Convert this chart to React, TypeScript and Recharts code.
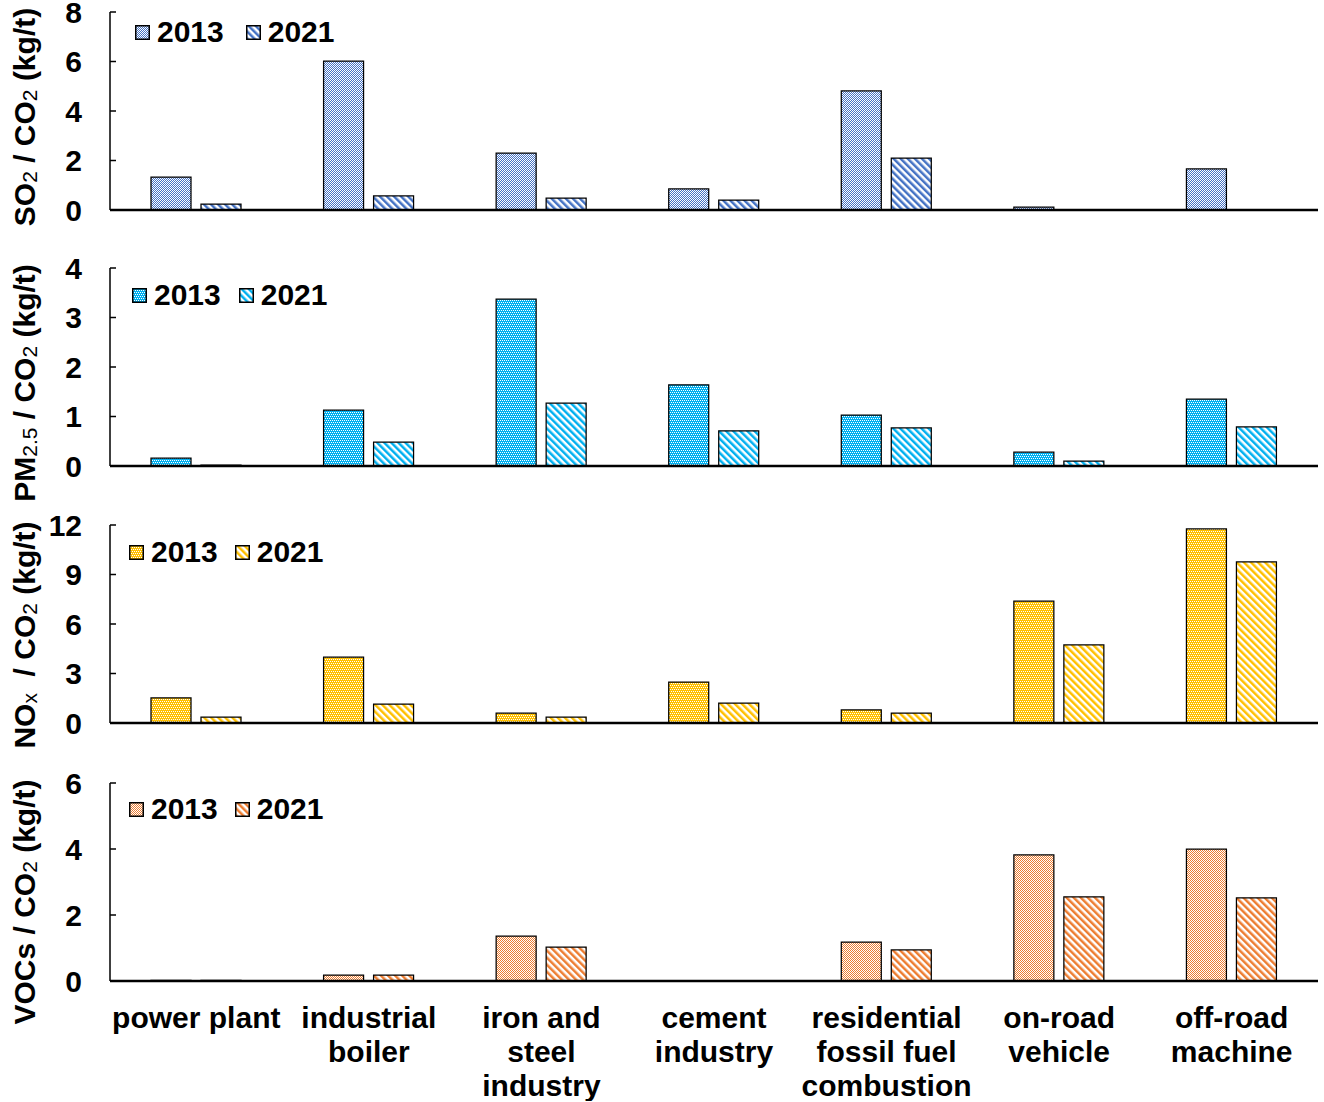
import React from 'react';
import { BarChart, Bar, XAxis, YAxis, Legend } from 'recharts';

const categories = [
  'power plant',
  'industrial\nboiler',
  'iron and\nsteel\nindustry',
  'cement\nindustry',
  'residential\nfossil fuel\ncombustion',
  'on-road\nvehicle',
  'off-road\nmachine',
];

const years = ['2013', '2021'];

const so2_2013 = [1.33, 6.02, 2.3, 0.85, 4.81, 0.12, 1.66];
const so2_2021 = [0.24, 0.57, 0.48, 0.4, 2.1, 0.02, 0.02];
const pm_2013 = [0.16, 1.13, 3.37, 1.64, 1.03, 0.28, 1.35];
const pm_2021 = [0.02, 0.48, 1.27, 0.71, 0.77, 0.1, 0.79];
const nox_2013 = [1.52, 4.0, 0.6, 2.48, 0.79, 7.39, 11.76];
const nox_2021 = [0.36, 1.15, 0.36, 1.21, 0.6, 4.73, 9.76];
const voc_2013 = [0.02, 0.18, 1.36, 0.01, 1.18, 3.82, 4.0];
const voc_2021 = [0.02, 0.18, 1.03, 0.0, 0.94, 2.55, 2.52];

const so2Ticks = [0, 2, 4, 6, 8];
const pmTicks = [0, 1, 2, 3, 4];
const noxTicks = [0, 3, 6, 9, 12];
const vocTicks = [0, 2, 4, 6];

const FONT = 'Arial, "Liberation Sans", sans-serif';
const FS = 30;
const MT = 24;

type Part = [string, boolean];

// white pixels inside a 4x4 tile for the dotted 2013 fill
const DOTS_50 = [[0, 0], [1, 1], [2, 0], [3, 1], [0, 2], [1, 3], [2, 2], [3, 3]];
const DOTS_25 = [[0, 0], [2, 0], [1, 2], [3, 2]];

const panels = [
  {
    key: 'so2', a: so2_2013, b: so2_2021, ticks: so2Ticks, color: '#4472c4', dots: DOTS_50,
    label: [['SO', false], ['2', true], [' / CO', false], ['2', true], [' (kg/t)', false]] as Part[],
    plotTop: 12, labelCenter: 117, legendCenter: 32, legendLeft: 135, legendGap: 22,
  },
  {
    key: 'pm', a: pm_2013, b: pm_2021, ticks: pmTicks, color: '#00b0f0', dots: DOTS_25,
    label: [['PM', false], ['2.5', true], [' / CO', false], ['2', true], [' (kg/t)', false]] as Part[],
    plotTop: 268, labelCenter: 383, legendCenter: 295, legendLeft: 132, legendGap: 18,
  },
  {
    key: 'nox', a: nox_2013, b: nox_2021, ticks: noxTicks, color: '#ffc000', dots: DOTS_25,
    label: [['NO', false], ['x', true], ['  / CO', false], ['2', true], [' (kg/t)', false]] as Part[],
    plotTop: 525, labelCenter: 635, legendCenter: 552, legendLeft: 129, legendGap: 17,
  },
  {
    key: 'voc', a: voc_2013, b: voc_2021, ticks: vocTicks, color: '#ed7d31', dots: DOTS_50,
    label: [['VOCs / CO', false], ['2', true], [' (kg/t)', false]] as Part[],
    plotTop: 783, labelCenter: 902, legendCenter: 809, legendLeft: 129, legendGap: 17,
  },
];

const YTick = (props: any) => {
  const { x, y, payload } = props;
  return (
    <g>
      <text x={x} y={y} dy="0.36em" textAnchor="end" fontSize={FS} fontWeight="bold" fontFamily={FONT} fill="#000">
        {payload.value}
      </text>
      <line x1={x + 28} x2={x + 34} y1={y} y2={y} stroke="#000" strokeWidth={1.5} />
    </g>
  );
};

const XTick = (props: any) => {
  const { x, y, payload } = props;
  const lines = String(payload.value).split('\n');
  return (
    <text textAnchor="middle" fontSize={FS} fontWeight="bold" fontFamily={FONT} fill="#000">
      {lines.map((l, i) => (
        <tspan key={i} x={x} y={y + 47 + i * 34}>{l}</tspan>
      ))}
    </text>
  );
};

const YLabel = (props: any) => {
  const { parts, cy } = props;
  const x = 35;
  return (
    <text
      x={x}
      y={cy}
      transform={`rotate(-90, ${x}, ${cy})`}
      textAnchor="middle"
      fontSize={30}
      fontWeight="bold"
      fontFamily={FONT}
      fill="#000"
      style={{ whiteSpace: 'pre' }}
    >
      {parts.map((p: Part, i: number) =>
        p[1] ? (
          <tspan key={i} fontSize={21} fontWeight="normal" dy={2}>{p[0]}</tspan>
        ) : (
          <tspan key={i} dy={i > 0 ? -2 : 0}>{p[0]}</tspan>
        )
      )}
    </text>
  );
};

const makeLegend = (gap: number) => (props: any) => {
  const { payload } = props;
  return (
    <div style={{ display: 'flex', alignItems: 'center', fontFamily: FONT, fontWeight: 'bold', fontSize: FS, lineHeight: '28px', color: '#000', whiteSpace: 'nowrap' }}>
      {(payload || []).map((entry: any, i: number) => (
        <div key={i} style={{ display: 'flex', alignItems: 'center', marginRight: gap }}>
          <svg width={15} height={15} style={{ marginRight: 7, display: 'block' }}>
            <rect x={0.75} y={0.75} width={13.5} height={13.5} fill={entry.color} stroke="#000" strokeWidth={1.5} />
          </svg>
          <span>{entry.value}</span>
        </div>
      ))}
    </div>
  );
};

export default function App() {
  return (
    <div style={{ position: 'absolute', left: 0, top: 0, width: 1324, height: 1102, background: '#fff', overflow: 'hidden' }}>
      {panels.map((p, idx) => {
        const last = idx === panels.length - 1;
        const data = categories.map((c, i) => ({ name: c, v2013: p.a[i], v2021: p.b[i] }));
        const xh = last ? 120 : 60;
        const h = MT + 198 + xh;
        const top = p.plotTop - MT;
        const max = p.ticks[p.ticks.length - 1];
        return (
          <div key={p.key} style={{ position: 'absolute', left: 0, top }}>
            <BarChart
              width={1324}
              height={h}
              data={data}
              margin={{ top: MT, right: 6, bottom: 0, left: 0 }}
              barSize={40}
              barGap={10}
            >
              <defs>
                <pattern id={`chk-${p.key}`} patternUnits="userSpaceOnUse" width={4} height={4}>
                  <rect width={4} height={4} fill={p.color} />
                  {p.dots.map((d, i) => (
                    <rect key={i} x={d[0]} y={d[1]} width={1} height={1} fill="#fff" />
                  ))}
                </pattern>
                <pattern id={`hat-${p.key}`} patternUnits="userSpaceOnUse" width={5} height={5} patternTransform="rotate(-45)">
                  <rect width={5} height={5} fill="#fff" />
                  <rect width={2.5} height={5} fill={p.color} />
                </pattern>
              </defs>
              <XAxis
                dataKey="name"
                height={xh}
                interval={0}
                tickLine={false}
                tickSize={0}
                tickMargin={0}
                tick={last ? <XTick /> : false}
                axisLine={{ stroke: '#000', strokeWidth: 2.5 }}
              />
              <YAxis
                type="number"
                width={110}
                domain={[0, max]}
                ticks={p.ticks}
                interval={0}
                tickLine={false}
                tickSize={0}
                tickMargin={28}
                tick={<YTick />}
                axisLine={{ stroke: '#000', strokeWidth: 1.5 }}
                label={<YLabel parts={p.label} cy={p.labelCenter - top} />}
              />
              <Legend
                layout="horizontal"
                verticalAlign="middle"
                align="center"
                content={makeLegend(p.legendGap)}
                wrapperStyle={{ top: p.legendCenter - 14 - top, left: p.legendLeft, width: 'auto', height: 'auto' }}
              />
              <Bar dataKey="v2013" name={years[0]} fill={`url(#chk-${p.key})`} stroke="#000" strokeWidth={1.25} isAnimationActive={false} />
              <Bar dataKey="v2021" name={years[1]} fill={`url(#hat-${p.key})`} stroke="#000" strokeWidth={1.25} isAnimationActive={false} />
            </BarChart>
          </div>
        );
      })}
    </div>
  );
}
